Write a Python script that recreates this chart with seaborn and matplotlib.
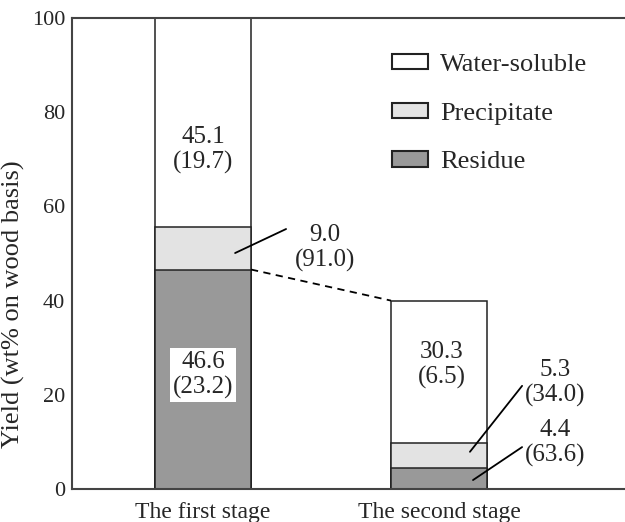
import numpy as np
import pandas as pd
import matplotlib
matplotlib.use('Agg')
import matplotlib.pyplot as plt
import seaborn as sns
from matplotlib.patches import Patch

# data
stages = ['The first stage', 'The second stage']
residue = [46.6, 4.4]
precipitate = [9.0, 5.3]
water_soluble = [45.1, 30.3]
residue_note = ['(23.2)', '(63.6)']
precipitate_note = ['(91.0)', '(34.0)']
water_note = ['(19.7)', '(6.5)']

sns.set_style('white')
plt.rcParams['font.family'] = ['Liberation Serif', 'DejaVu Serif']

df = pd.DataFrame({'Stage': stages, 'Residue': residue,
                   'Precipitate': precipitate, 'Water': water_soluble})
df['cum_res'] = df['Residue']
df['cum_pre'] = df['Residue'] + df['Precipitate']
df['cum_wat'] = df['cum_pre'] + df['Water']

fig = plt.figure(figsize=(6.25, 5.22), dpi=100)
ax = fig.add_axes([0.1152, 0.0632, 0.8848, 0.9023])

bw = 0.407
edge = dict(edgecolor='#222222', linewidth=1.1)
sns.barplot(data=df, x='Stage', y='cum_wat', color='white', width=bw, ax=ax, **edge)
sns.barplot(data=df, x='Stage', y='cum_pre', color='#e3e3e3', width=bw, ax=ax, **edge)
sns.barplot(data=df, x='Stage', y='cum_res', color='#999999', width=bw, ax=ax, **edge)
# seaborn desaturates; force exact colours
for p in ax.patches[:2]:
    p.set_facecolor('white')
for p in ax.patches[2:4]:
    p.set_facecolor('#e3e3e3')
for p in ax.patches[4:6]:
    p.set_facecolor('#999999')

ax.set_xlim(-0.555, 1.788)
ax.set_ylim(0, 100)
ax.set_yticks([0, 20, 40, 60, 80, 100])
ax.tick_params(axis='y', direction='in', length=6, width=2, color='#999999',
               labelsize=16, pad=5)
ax.tick_params(axis='x', length=0, labelsize=17, pad=9)
ax.set_xlabel('')
ax.set_ylabel('Yield (wt% on wood basis)', fontsize=19)
ax.yaxis.set_label_coords(-0.085, 0.393)
for s in ['left', 'top', 'bottom']:
    ax.spines[s].set_color('#444444')
    ax.spines[s].set_linewidth(1.5)
ax.spines['right'].set_visible(False)

# dashed link between stages
ax.plot([bw / 2, 1 - bw / 2], [df['cum_res'][0], df['cum_wat'][1]],
        ls='--', color='black', lw=1.3, dashes=(4, 3))

fs = 18
ls = 1.2
# first stage labels
ax.text(0, 72, f'{water_soluble[0]}\n{water_note[0]}', ha='center', va='center',
        fontsize=fs, linespacing=ls)
ax.text(0, 24.2, f'{residue[0]}\n{residue_note[0]}', ha='center', va='center',
        fontsize=fs, linespacing=ls,
        bbox=dict(facecolor='white', edgecolor='none', pad=2))
ax.text(0.517, 51.2, f'{precipitate[0]}\n{precipitate_note[0]}', ha='center', va='center',
        fontsize=fs, linespacing=ls)
ax.plot([0.136, 0.352], [50.1, 55.2], color='black', lw=1.3)

# second stage labels
ax.text(1.013, 26.3, f'{water_soluble[1]}\n{water_note[1]}', ha='center', va='center',
        fontsize=fs, linespacing=ls)
ax.text(1.49, 22.5, f'{precipitate[1]}\n{precipitate_note[1]}', ha='center', va='center',
        fontsize=fs, linespacing=ls)
ax.plot([1.131, 1.352], [7.9, 21.9], color='black', lw=1.3)
ax.text(1.49, 9.8, f'{residue[1]}\n{residue_note[1]}', ha='center', va='center',
        fontsize=fs, linespacing=ls)
ax.plot([1.144, 1.352], [1.9, 8.9], color='black', lw=1.3)

handles = [Patch(facecolor='white', edgecolor='#222222', lw=1.5, label='Water-soluble'),
           Patch(facecolor='#e3e3e3', edgecolor='#222222', lw=1.5, label='Precipitate'),
           Patch(facecolor='#999999', edgecolor='#222222', lw=1.5, label='Residue')]
ax.legend(handles=handles, loc='upper left', bbox_to_anchor=(0.579, 0.924),
          frameon=False, fontsize=19, borderpad=0, borderaxespad=0,
          handlelength=1.36, handleheight=0.53, labelspacing=1.01, handletextpad=0.45)

fig.savefig('out.png', dpi=100)
